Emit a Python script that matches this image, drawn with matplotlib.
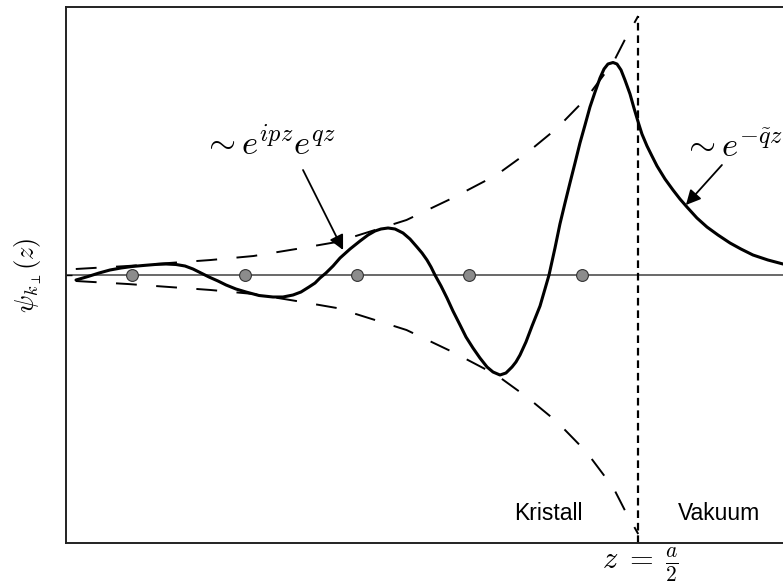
import numpy as np
import matplotlib.pyplot as plt

plt.rcParams['mathtext.fontset'] = 'cm'
plt.rcParams['lines.scale_dashes'] = False

# z in units of the lattice constant a (atoms at 0, -1, ...), psi in arbitrary units
atoms_z = [-4, -3, -2, -1, 0]
surface_z = 0.5

# envelope |psi| ~ e^{qz}
env_z = [-4.50, -4.04, -3.67, -3.30, -2.92, -2.54, -2.18, -1.84, -1.56, -1.15,
         -0.76, -0.49, -0.22, 0.04, 0.16, 0.28, 0.38, 0.50]
env_amp = [0.06, 0.09, 0.12, 0.15, 0.19, 0.26, 0.33, 0.45, 0.55, 0.77,
           1.00, 1.22, 1.47, 1.77, 1.95, 2.13, 2.35, 2.59]

# wave function inside the crystal and in the vacuum
psi_z = [-4.498, -4.391, -4.293, -4.196, -4.098, -4.000, -3.902, -3.796, -3.698, -3.609,
         -3.529, -3.458, -3.387, -3.316, -3.236, -3.164, -3.076, -2.987, -2.871, -2.747,
         -2.658, -2.569, -2.498, -2.427, -2.373, -2.329, -2.276, -2.213, -2.151, -2.062,
         -1.973, -1.902, -1.840, -1.787, -1.724, -1.662, -1.591, -1.529, -1.467, -1.422,
         -1.378, -1.342, -1.307, -1.253, -1.200, -1.147, -1.084, -1.031, -0.969, -0.907,
         -0.844, -0.791, -0.729, -0.676, -0.622, -0.587, -0.551, -0.498, -0.444, -0.373,
         -0.329, -0.293, -0.240, -0.196, -0.151, -0.107, -0.062, -0.018, 0.027, 0.071,
         0.116, 0.160, 0.196, 0.231, 0.276, 0.311, 0.347, 0.382, 0.427, 0.462,
         0.502, 0.533, 0.578, 0.622, 0.667, 0.738, 0.809, 0.871, 0.933, 1.022,
         1.111, 1.209, 1.316, 1.413, 1.520, 1.653, 1.787]
psi_val = [-0.05, -0.015, 0.02, 0.05, 0.07, 0.085, 0.095, 0.105, 0.11, 0.105,
           0.09, 0.06, 0.02, -0.02, -0.06, -0.10, -0.14, -0.17, -0.205, -0.22,
           -0.22, -0.20, -0.17, -0.12, -0.08, -0.03, 0.02, 0.09, 0.17, 0.26,
           0.34, 0.40, 0.44, 0.46, 0.47, 0.46, 0.42, 0.36, 0.28, 0.22,
           0.15, 0.08, 0.00, -0.11, -0.23, -0.36, -0.50, -0.62, -0.73, -0.83,
           -0.92, -0.97, -1.00, -0.98, -0.92, -0.87, -0.80, -0.67, -0.51, -0.31,
           -0.14, 0.00, 0.27, 0.51, 0.72, 0.92, 1.12, 1.32, 1.50, 1.68,
           1.83, 1.97, 2.06, 2.11, 2.125, 2.11, 2.05, 1.95, 1.81, 1.67,
           1.52, 1.41, 1.29, 1.19, 1.09, 0.96, 0.85, 0.76, 0.68, 0.57,
           0.48, 0.40, 0.32, 0.26, 0.20, 0.15, 0.11]

fig = plt.figure(figsize=(7.83, 5.88), dpi=100)
ax = fig.add_axes([66 / 783, 45 / 588, 1 - 66 / 783, 536 / 588])
ax.set_xlim(-4.587, 1.787)
ax.set_ylim(-2.68, 2.68)

ax.axhline(0, color='#404040', lw=1.1, zorder=1)

env = np.array(env_amp)
ax.plot(env_z, env, color='black', lw=1.4, dashes=(15, 14), zorder=2)
ax.plot(env_z, -env, color='black', lw=1.4, dashes=(15, 14), zorder=2)

ax.plot([surface_z, surface_z], [-2.68, env_amp[-1]], color='black', lw=1.6,
        dashes=(5.5, 3.5), zorder=2, clip_on=False)

ax.plot(psi_z, psi_val, color='black', lw=2.2, solid_joinstyle='round',
        solid_capstyle='round', zorder=3)

ax.plot(atoms_z, np.zeros(len(atoms_z)), 'o', ms=8.5, mfc='#8c8c8c',
        mec='#333333', mew=0.8, zorder=4)

ax.text(-3.38, 1.20, r'$\sim e^{ipz}e^{qz}$', fontsize=25, ha='left', va='baseline')
ax.annotate('', xy=(-2.124, 0.25), xytext=(-2.48, 1.05),
            arrowprops=dict(arrowstyle='-|>', color='black', lw=1.3,
                            mutation_scale=22, shrinkA=0, shrinkB=0))
ax.text(0.889, 1.18, r'$\sim e^{-\tilde{q}z}$', fontsize=25, ha='left',
        va='baseline', clip_on=False)
ax.annotate('', xy=(0.924, 0.70), xytext=(1.244, 1.10),
            arrowprops=dict(arrowstyle='-|>', color='black', lw=1.3,
                            mutation_scale=22, shrinkA=0, shrinkB=0))

ax.text(-0.30, -2.38, 'Kristall', fontsize=16.5, family='Liberation Sans',
        ha='center', va='center')
ax.text(1.218, -2.38, 'Vakuum', fontsize=16.5, family='Liberation Sans',
        ha='center', va='center')
ax.text(0.524, -2.90, r'$z\;=\;\frac{a}{2}$', fontsize=22, ha='center', va='center',
        clip_on=False)

ax.set_ylabel(r'$\psi_{k_\perp}(z)$', fontsize=19, labelpad=12)

ax.spines['right'].set_visible(False)
for s in ['left', 'top', 'bottom']:
    ax.spines[s].set_linewidth(1.4)
    ax.spines[s].set_color('#222222')
ax.set_xticks([])
ax.set_yticks([0])
ax.set_yticklabels([])
ax.tick_params(axis='y', direction='in', length=4, width=1)

fig.savefig('out.png', dpi=100)
